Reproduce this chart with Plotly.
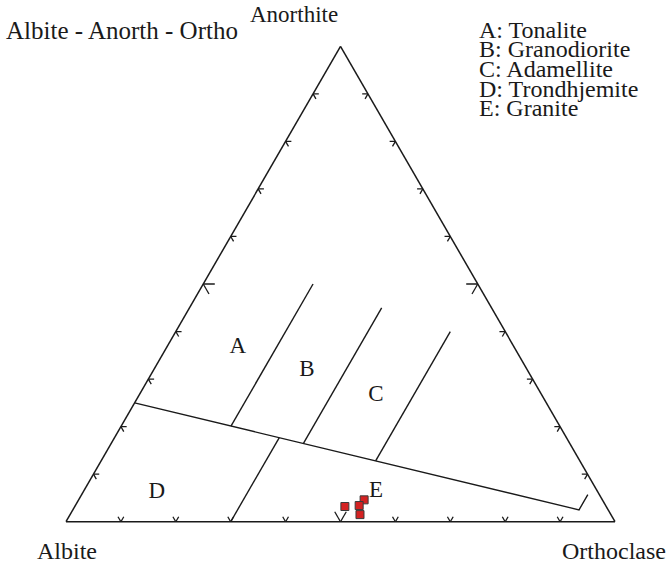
import plotly.graph_objects as go

# ---- data -------------------------------------------------------------
# Normative feldspar proportions of the samples (fractions of An+Ab+Or)
sample_an = [0.032, 0.046, 0.034, 0.015]
sample_ab = [0.476, 0.434, 0.449, 0.457]
sample_or = [0.492, 0.520, 0.517, 0.528]

# O'Connor (1965) field boundaries, each a polyline of (An, Or) vertices
boundary_lines = [
    [(0.250, 0.000), (0.025, 0.922), (0.057, 0.922)],
    [(0.201, 0.200), (0.500, 0.200)],
    [(0.165, 0.350), (0.450, 0.350)],
    [(0.128, 0.500), (0.400, 0.500)],
    [(0.000, 0.300), (0.177, 0.300)],
]

# Field letters and their (An, Or) anchor points
field_letters = ["A", "B", "C", "D", "E"]
field_an = [0.366, 0.318, 0.267, 0.063, 0.065]
field_or = [0.130, 0.280, 0.431, 0.134, 0.532]

field_names = ["A: Tonalite", "B: Granodiorite", "C: Adamellite",
               "D: Trondhjemite", "E: Granite"]

tick_fractions = [0.1, 0.2, 0.3, 0.4, 0.5, 0.6, 0.7, 0.8, 0.9]

# ---- styling ----------------------------------------------------------
INK = "#1a1a1a"
FONT = "Liberation Serif"
FS = 24
W, H = 671, 564
ML, MR, MT, MB = 66, 56, 46, 42
PW, PH = W - ML - MR, H - MT - MB


def px_to_paper(x, y):
    return (x - ML) / PW, (H - MB - y) / PH


fig = go.Figure()

# chevron ticks along the three edges, drawn parallel to the other edges
ta, tb, tc = [], [], []


def seg(p, q):
    for (a, b, c) in (p, q):
        ta.append(a)
        tb.append(b)
        tc.append(c)
    ta.append(None)
    tb.append(None)
    tc.append(None)


for f in tick_fractions:
    t = 0.021 if abs(f - 0.5) < 1e-9 else 0.0105
    # bottom edge (Albite - Orthoclase): An = 0
    p = (0.0, 1 - f, f)
    seg(p, (t, 1 - f, f - t))
    seg(p, (t, 1 - f - t, f))
    # left edge (Albite - Anorthite): Or = 0
    p = (f, 1 - f, 0.0)
    seg(p, (f, 1 - f - t, t))
    seg(p, (f - t, 1 - f, t))
    # right edge (Anorthite - Orthoclase): Ab = 0
    p = (f, 0.0, 1 - f)
    seg(p, (f, t, 1 - f - t))
    seg(p, (f - t, t, 1 - f))

fig.add_trace(go.Scatterternary(
    a=ta, b=tb, c=tc, mode="lines",
    line=dict(color=INK, width=1.3), hoverinfo="skip"))

# field boundaries
for line in boundary_lines:
    fig.add_trace(go.Scatterternary(
        a=[p[0] for p in line],
        b=[1 - p[0] - p[1] for p in line],
        c=[p[1] for p in line],
        mode="lines", line=dict(color=INK, width=1.4), hoverinfo="skip"))

# field letters
fig.add_trace(go.Scatterternary(
    a=field_an,
    b=[1 - a - o for a, o in zip(field_an, field_or)],
    c=field_or,
    mode="text", text=field_letters, textposition="middle center",
    textfont=dict(family=FONT, size=23, color=INK), hoverinfo="skip"))

# samples
fig.add_trace(go.Scatterternary(
    a=sample_an, b=sample_ab, c=sample_or, mode="markers",
    marker=dict(symbol="square", size=8, color="#d42222",
                line=dict(color="#3a3a3a", width=1)),
    hoverinfo="skip"))

axis_style = dict(showline=True, linecolor=INK, linewidth=1.5,
                  showticklabels=False, ticks="", showgrid=False,
                  title=dict(text=""))

annotations = []


def label(text, x, y, xanchor="left", size=FS):
    xp, yp = px_to_paper(x, y)
    annotations.append(dict(
        text=text, x=xp, y=yp, xref="paper", yref="paper",
        xanchor=xanchor, yanchor="middle", showarrow=False,
        font=dict(family=FONT, size=size, color=INK)))


label("Albite - Anorth - Ortho", 4, 31, size=25)
label("Anorthite", 340, 14, xanchor="right", size=23)
label("Albite", 67, 551, xanchor="center")
label("Orthoclase", 614, 551, xanchor="center")
for i, name in enumerate(field_names):
    label(name, 477, 30 + 19.5 * i)

fig.update_layout(
    width=W, height=H,
    margin=dict(l=ML, r=MR, t=MT, b=MB),
    paper_bgcolor="white",
    showlegend=False,
    hovermode=False,
    ternary=dict(bgcolor="white", sum=1,
                 aaxis=axis_style, baxis=axis_style, caxis=axis_style),
    annotations=annotations,
)

fig.write_html("out.html")
